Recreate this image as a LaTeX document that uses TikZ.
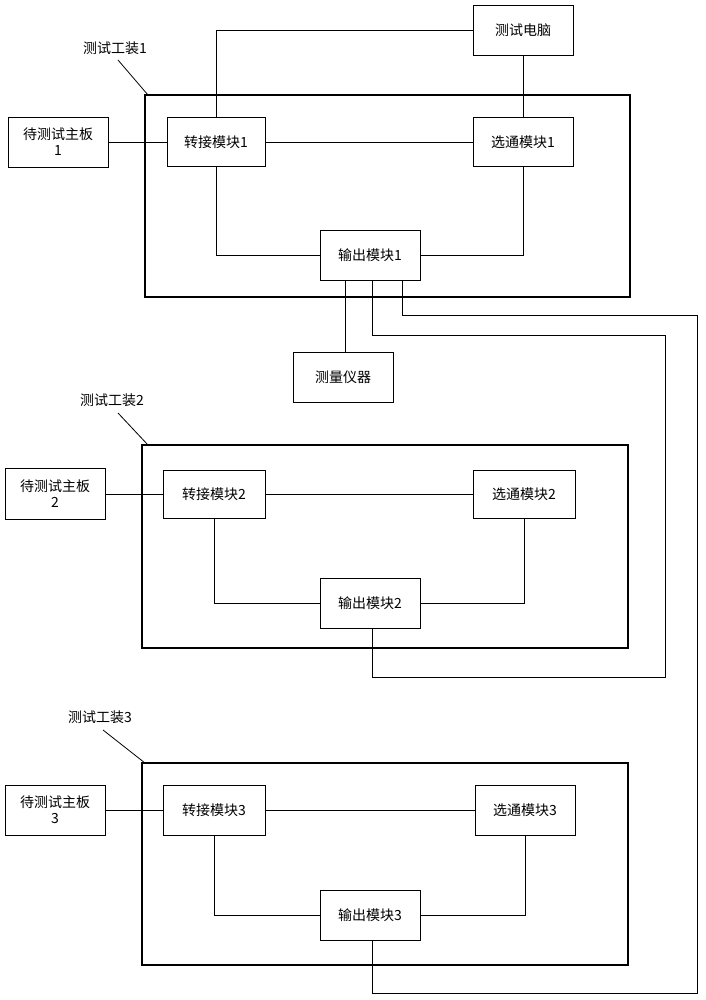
\documentclass[tikz,border=0pt]{standalone}
\usepackage{fontspec}
\newfontfamily\cjk{Noto Sans CJK SC}
\begin{document}
\begin{tikzpicture}[x=1pt,y=-1pt,
  bx/.style={draw,line width=0.8pt,inner sep=0pt,font=\cjk\fontsize{14}{16}\selectfont,align=center},
  fr/.style={draw,line width=2.2pt},
  ln/.style={line width=0.8pt},
  lab/.style={font=\cjk\fontsize{14}{16}\selectfont}]
\useasboundingbox (0,0) rectangle (705,1000);
% frames
\draw[fr] (145,95) rectangle (630,297);
\draw[fr] (142,445) rectangle (628,648);
\draw[fr] (142,763) rectangle (628,965);
% boxes
\node[bx,minimum width=100pt,minimum height=50pt] (pc) at (523,30) {测试电脑};
\node[bx,minimum width=100pt,minimum height=50pt] (mb1) at (58,142) {待测试主板\\1};
\node[bx,minimum width=98pt,minimum height=49pt] (zj1) at (216,142) {转接模块1};
\node[bx,minimum width=100pt,minimum height=49pt] (xt1) at (523,142) {选通模块1};
\node[bx,minimum width=100pt,minimum height=50pt] (sc1) at (370,255) {输出模块1};
\node[bx,minimum width=100pt,minimum height=50pt] (cl) at (343,377) {测量仪器};
\node[bx,minimum width=100pt,minimum height=51pt] (mb2) at (55,494) {待测试主板\\2};
\node[bx,minimum width=102pt,minimum height=48pt] (zj2) at (214,494) {转接模块2};
\node[bx,minimum width=102pt,minimum height=48pt] (xt2) at (524,494) {选通模块2};
\node[bx,minimum width=100pt,minimum height=50pt] (sc2) at (370,603) {输出模块2};
\node[bx,minimum width=100pt,minimum height=50pt] (mb3) at (55,810) {待测试主板\\3};
\node[bx,minimum width=102pt,minimum height=50pt] (zj3) at (214,810) {转接模块3};
\node[bx,minimum width=100pt,minimum height=50pt] (xt3) at (525,810) {选通模块3};
\node[bx,minimum width=100pt,minimum height=50pt] (sc3) at (370,915) {输出模块3};
% labels
\node[lab] (l1) at (115,48) {测试工装1};
\node[lab] (l2) at (112,400) {测试工装2};
\node[lab] (l3) at (100,717) {测试工装3};
\draw[ln] (118,60) -- (148,95);
\draw[ln] (118,413) -- (148,445);
\draw[ln] (103,730) -- (145,763);
% connections 1
\draw[ln] (zj1.north) -- (216,30) -- (pc.west);
\draw[ln] (pc.south) -- (xt1.north);
\draw[ln] (zj1.east) -- (xt1.west);
\draw[ln] (mb1.east) -- (zj1.west);
\draw[ln] (zj1.south) -- (216,255) -- (sc1.west);
\draw[ln] (xt1.south) -- (523,255) -- (sc1.east);
\draw[ln] (345,280) -- (cl.north -| 345,0);
\draw[ln] (372,280) -- (372,335) -- (665,335) -- (665,677) -- (372,677) -- (372,628);
\draw[ln] (402,280) -- (402,315) -- (697,315) -- (697,993) -- (372,993) -- (372,940);
% connections 2
\draw[ln] (mb2.east) -- (zj2.west);
\draw[ln] (zj2.east) -- (xt2.west);
\draw[ln] (zj2.south) -- (214,603) -- (sc2.west);
\draw[ln] (xt2.south) -- (524,603) -- (sc2.east);
% connections 3
\draw[ln] (mb3.east) -- (zj3.west);
\draw[ln] (zj3.east) -- (xt3.west);
\draw[ln] (zj3.south) -- (214,915) -- (sc3.west);
\draw[ln] (xt3.south) -- (525,915) -- (sc3.east);
\end{tikzpicture}
\end{document}
